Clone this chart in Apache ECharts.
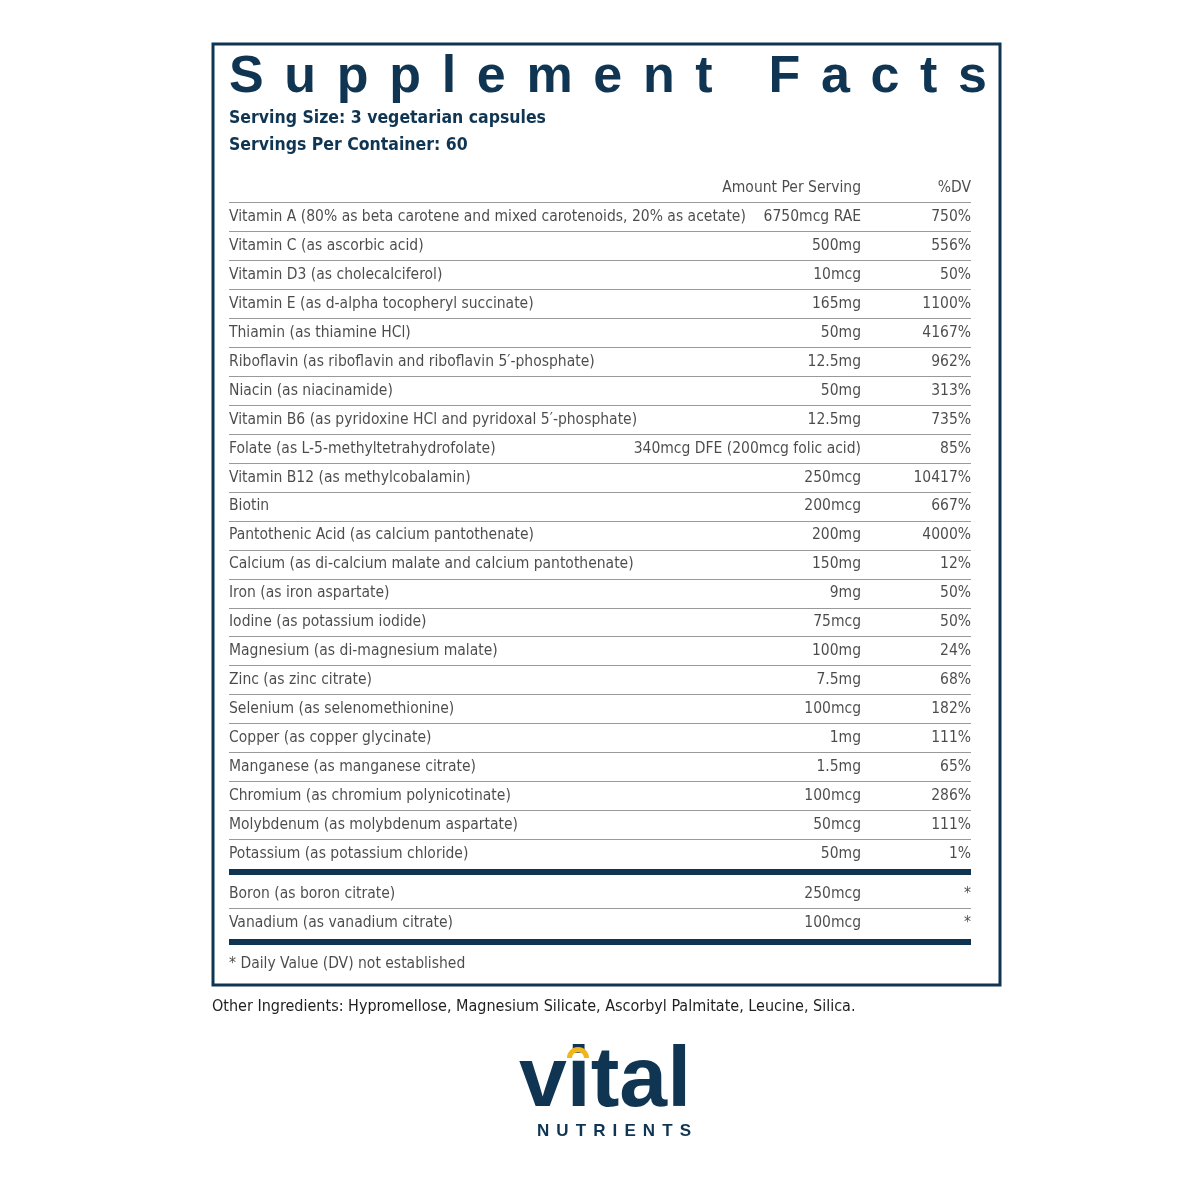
<!DOCTYPE html>
<html><head><meta charset="utf-8">
<script src="https://cdn.jsdelivr.net/npm/echarts@6/dist/echarts.min.js"></script>
<style>html,body{margin:0;background:#fff}#c{width:1200px;height:1200px}</style></head>
<body><div id="c"></div>
<script>
const names = ["Vitamin A (80% as beta carotene and mixed carotenoids, 20% as acetate)","Vitamin C (as ascorbic acid)","Vitamin D3 (as cholecalciferol)","Vitamin E (as d-alpha tocopheryl succinate)","Thiamin (as thiamine HCl)","Riboflavin (as riboflavin and riboflavin 5\u2032-phosphate)","Niacin (as niacinamide)","Vitamin B6 (as pyridoxine HCl and pyridoxal 5\u2032-phosphate)","Folate (as L-5-methyltetrahydrofolate)","Vitamin B12 (as methylcobalamin)","Biotin","Pantothenic Acid (as calcium pantothenate)","Calcium (as di-calcium malate and calcium pantothenate)","Iron (as iron aspartate)","Iodine (as potassium iodide)","Magnesium (as di-magnesium malate)","Zinc (as zinc citrate)","Selenium (as selenomethionine)","Copper (as copper glycinate)","Manganese (as manganese citrate)","Chromium (as chromium polynicotinate)","Molybdenum (as molybdenum aspartate)","Potassium (as potassium chloride)"];
const amounts = ["6750mcg RAE","500mg","10mcg","165mg","50mg","12.5mg","50mg","12.5mg","340mcg DFE (200mcg folic acid)","250mcg","200mcg","200mg","150mg","9mg","75mcg","100mg","7.5mg","100mcg","1mg","1.5mg","100mcg","50mcg","50mg"];
const dv = ["750%","556%","50%","1100%","4167%","962%","313%","735%","85%","10417%","667%","4000%","12%","50%","50%","24%","68%","182%","111%","65%","286%","111%","1%"];
const extraNames = ["Boron (as boron citrate)","Vanadium (as vanadium citrate)"];
const extraAmounts = ["250mcg","100mcg"];
const extraDv = ["*","*"];
const title = "Supplement Facts";
const servingLines = ["Serving Size: 3 vegetarian capsules","Servings Per Container: 60"];
const headers = ["Amount Per Serving","%DV"];
const footnote = "* Daily Value (DV) not established";
const other = "Other Ingredients: Hypromellose, Magnesium Silicate, Ascorbyl Palmitate, Leucine, Silica.";

const NAVY = "#0f3552", TXT = "#1e1e1e";
const FONT = "'DejaVu Sans Condensed','DejaVu Sans',sans-serif";
const EXTRA_OFFSET = 0.39;
const pts = [];
function lbl(pos){return {show:true,position:pos,color:TXT,fontFamily:FONT,fontStyle:'condensed',fontSize:15.5,distance:0};}
names.forEach((n,i)=>{const y=i+1;
  pts.push({value:[0,y],label:Object.assign(lbl('right'),{formatter:n})});
  pts.push({value:[85.18,y],label:Object.assign(lbl('left'),{formatter:amounts[i]})});
  pts.push({value:[100,y],label:Object.assign(lbl('left'),{formatter:dv[i]})});
});
extraNames.forEach((n,j)=>{const y=names.length+1+j+EXTRA_OFFSET;
  pts.push({value:[0,y],label:Object.assign(lbl('right'),{formatter:n})});
  pts.push({value:[85.18,y],label:Object.assign(lbl('left'),{formatter:extraAmounts[j]})});
  pts.push({value:[100,y],label:Object.assign(lbl('left'),{formatter:extraDv[j]})});
});
pts.push({value:[85.18,0],label:Object.assign(lbl('left'),{formatter:headers[0]})});
pts.push({value:[100,0],label:Object.assign(lbl('left'),{formatter:headers[1]})});
pts.push({value:[0,names.length+2+EXTRA_OFFSET+1.41],label:Object.assign(lbl('right'),{formatter:footnote})});

const thin=[], thick=[];
for(let i=0;i<names.length-1;i++) thin.push(i+1.5);
thin.push(0.5);
thin.push(names.length+1.5+EXTRA_OFFSET);
thick.push({y:-0.73,w:6},{y:names.length+0.63,w:6},{y:names.length+3.05,w:6});
const mlData = thin.map(v=>({yAxis:v,lineStyle:{color:"#999",width:1,type:'solid'}}))
  .concat(thick.map(t=>({yAxis:t.y,lineStyle:{color:NAVY,width:t.w,type:'solid'}})));

function spaced(str,x0,x1,y,font){
  const ctx=document.createElement('canvas').getContext('2d'); ctx.font=font;
  const ws=[...str].map(c=>ctx.measureText(c).width);
  const tot=ws.reduce((a,b)=>a+b,0);
  const sp=(x1-x0-tot)/(ws.length-1);
  let x=x0; const out=[];
  [...str].forEach((c,i)=>{out.push({type:'text',x:x,y:y,style:{text:c,font:font,fill:NAVY,textVerticalAlign:'middle'}}); x+=ws[i]+sp;});
  return out;
}
const g=[];
g.push({type:'rect',shape:{x:213,y:44,width:787,height:941},style:{fill:'none',stroke:NAVY,lineWidth:3}});
g.push(...spaced(title,229,987,78,"bold 52px 'Liberation Sans',sans-serif"));
servingLines.forEach((s,i)=>g.push({type:'text',x:229,y:118+i*27,style:{text:s,font:"condensed bold 17.5px "+FONT,fill:NAVY,textVerticalAlign:'middle'}}));
g.push({type:'text',x:212,y:1007,style:{text:other,font:"condensed 16px "+FONT,fill:TXT,textVerticalAlign:'middle'}});
g.push({type:'text',x:605,y:1082,style:{text:'vital',font:"bold 86px 'Liberation Sans',sans-serif",fill:NAVY,textAlign:'center',textVerticalAlign:'middle'}});
g.push(...spaced("NUTRIENTS",537,691,1131,"bold 17px 'Liberation Sans',sans-serif"));
g.push({type:'sector',shape:{cx:578,cy:1058,r:11,r0:6,startAngle:Math.PI,endAngle:2*Math.PI},style:{fill:'#f2b51c'}});

const chart=echarts.init(document.getElementById('c'));
chart.setOption({
  animation:false,
  grid:{left:229,width:742,top:188,height:27*28.95},
  xAxis:{type:'value',min:0,max:100,show:false},
  yAxis:{type:'value',min:0,max:27,inverse:true,show:false},
  graphic:g,
  series:[{type:'scatter',symbolSize:0,data:pts,silent:true,
    markLine:{silent:true,symbol:'none',label:{show:false},data:mlData}}]
});
</script></body></html>
